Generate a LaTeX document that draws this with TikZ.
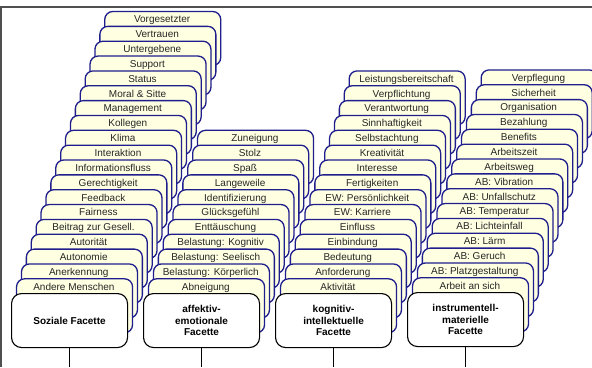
\documentclass[tikz,border=0pt]{standalone}
\usepackage{fontspec}
\setmainfont{Liberation Sans}
\definecolor{cardfill}{RGB}{255,255,226}
\definecolor{cardline}{RGB}{30,30,140}
\definecolor{framegray}{RGB}{80,80,80}
\tikzset{
  card/.style={draw=cardline, fill=cardfill, line width=1.3pt, rounded corners=8pt,
    minimum width=116pt, minimum height=54pt, inner sep=0pt, anchor=north west},
  cardtext/.style={anchor=base, inner sep=0pt, text=black!85,
    font=\fontsize{10}{12}\selectfont},
  facette/.style={draw=black, fill=white, line width=1.1pt, rounded corners=10pt,
    minimum width=116pt, minimum height=54pt, inner sep=0pt, anchor=north west,
    align=center, font=\fontsize{10}{11.5}\selectfont\bfseries},
  conn/.style={draw=black, line width=1pt},
  frameline/.style={draw=framegray, line width=1.3pt}
}
\newcommand\drawstack[5]{%
  \foreach \lab [count=\c] in {#5}{%
    \pgfmathsetmacro\k{#4-\c+1}%
    \pgfmathsetmacro\cx{#2+4.9*\k}%
    \pgfmathsetmacro\cy{#3-14.85*\k}%
    \pgfmathsetmacro\tx{\cx+58}%
    \pgfmathsetmacro\ty{\cy+12}%
    \node[card] (#1c\c) at (\cx,\cy) {};
    \node[cardtext] (#1t\c) at (\tx,\ty) {\lab};
  }%
}
\begin{document}
\begin{tikzpicture}[x=1pt,y=-1pt]
\useasboundingbox (0,0) rectangle (592,367);
\fill[white] (0,0) rectangle (592,367);
\coordinate (tr) at (592,7);
\coordinate (tl) at (1,7);
\coordinate (bl) at (1,367);
\coordinate (bottom) at (0,367);
\draw[frameline] (tr) -- (tl) -- (bl);

\drawstack{a}{11}{293}{19}{Vorgesetzter,Vertrauen,Untergebene,Support,Status,Moral \& Sitte,Management,Kollegen,Klima,Interaktion,Informationsfluss,Gerechtigkeit,Feedback,Fairness,Beitrag zur Gesell.,Autorität,Autonomie,Anerkennung,Andere Menschen}
\drawstack{b}{143}{293}{11}{Zuneigung,Stolz,Spaß,Langeweile,Identifizierung,Glücksgefühl,Enttäuschung,Belastung: Kognitiv,Belastung: Seelisch,Belastung: Körperlich,Abneigung}
\drawstack{c}{275}{293}{15}{Leistungsbereitschaft,Verpflichtung,Verantwortung,Sinnhaftigkeit,Selbstachtung,Kreativität,Interesse,Fertigkeiten,EW: Persönlichkeit,EW: Karriere,Einfluss,Einbindung,Bedeutung,Anforderung,Aktivität}
\drawstack{d}{407}{292}{15}{Verpflegung,Sicherheit,Organisation,Bezahlung,Benefits,Arbeitszeit,Arbeitsweg,AB: Vibration,AB: Unfallschutz,AB: Temperatur,AB: Lichteinfall,AB: Lärm,AB: Geruch,AB: Platzgestaltung,Arbeit an sich}

\node[facette] (f1) at (11,293) {Soziale Facette};
\node[facette] (f2) at (143,293) {affektiv-\\emotionale\\Facette};
\node[facette] (f3) at (275,293) {kognitiv-\\intellektuelle\\Facette};
\node[facette] (f4) at (407,292) {instrumentell-\\materielle\\Facette};

\foreach \f in {1,2,3,4}{
  \coordinate (e\f) at (f\f.south |- bottom);
  \draw[conn] (f\f.south) -- (e\f);
}
\end{tikzpicture}
\end{document}
